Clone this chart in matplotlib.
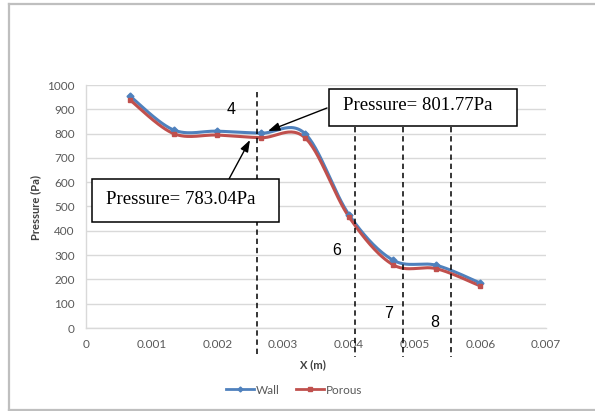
import numpy as np
import matplotlib
matplotlib.use("Agg")
import matplotlib.pyplot as plt
from matplotlib.transforms import blended_transform_factory
from matplotlib.patches import Rectangle
from matplotlib.lines import Line2D

# ---- data ----
x_pos = [0.000667, 0.001333, 0.002, 0.002667, 0.003333, 0.004, 0.004667, 0.005333, 0.006]
wall = [955, 815, 810, 801.77, 800, 467, 280, 258, 185]
porous = [939, 800, 794, 783.04, 783, 458, 261, 244, 173]
section_x = [0.0026, 0.0041, 0.00482, 0.00555]
section_labels = ["4", "6", "7", "8"]
x_ticks = [0, 0.001, 0.002, 0.003, 0.004, 0.005, 0.006, 0.007]
y_ticks = list(range(0, 1001, 100))
note_wall = "Pressure= 801.77Pa"
note_porous = "Pressure= 783.04Pa"

W, H = 595, 411
fig = plt.figure(figsize=(W / 100, H / 100), dpi=100)

def fx(px):
    return px / W

def fy(py):
    return 1 - py / H

ax = fig.add_axes([fx(86), fy(328), fx(546) - fx(86), fy(85) - fy(328)])
ax.set_xlim(0, 0.007)
ax.set_ylim(0, 1000)

blue = "#4F81BD"
red = "#C0504D"
grey_txt = "#595959"

def smooth(xs, ys, n=30):
    # Excel-like smoothed line (Bezier through the points), computed in screen-like units
    sx, sy = 460 / 0.007, 243 / 1000.0
    P = np.column_stack([np.array(xs) * sx, np.array(ys) * sy])
    out = []
    for i in range(len(P) - 1):
        p0 = P[i - 1] if i > 0 else P[i]
        p1 = P[i]
        p2 = P[i + 1]
        p3 = P[i + 2] if i + 2 < len(P) else P[i + 1]
        c1 = p1 + (p2 - p0) / 6.0
        c2 = p2 - (p3 - p1) / 6.0
        t = np.linspace(0, 1, n)[:, None]
        seg = (1 - t) ** 3 * p1 + 3 * (1 - t) ** 2 * t * c1 + 3 * (1 - t) * t ** 2 * c2 + t ** 3 * p2
        out.append(seg if i == 0 else seg[1:])
    out = np.vstack(out)
    return out[:, 0] / sx, out[:, 1] / sy

for ys, c, m, ms in [(wall, blue, "D", 3.5), (porous, red, "s", 3.5)]:
    sxs, sys_ = smooth(x_pos, ys)
    ax.plot(sxs, sys_, color=c, lw=2.2, zorder=3, solid_capstyle="round")
    ax.plot(x_pos, ys, linestyle="none", marker=m, ms=ms, color=c, zorder=4)

ax.set_xticks(x_ticks)
ax.set_xticklabels(["0", "0.001", "0.002", "0.003", "0.004", "0.005", "0.006", "0.007"])
ax.set_yticks(y_ticks)
ax.tick_params(axis="both", length=0, labelsize=8.5, labelcolor=grey_txt, pad=8)
for lab in ax.get_xticklabels() + ax.get_yticklabels():
    lab.set_family("Lato")
ax.grid(axis="y", color="#D9D9D9", lw=1)
ax.set_axisbelow(True)
for s in ["top", "right"]:
    ax.spines[s].set_visible(False)
for s in ["left", "bottom"]:
    ax.spines[s].set_color("#D9D9D9")
    ax.spines[s].set_linewidth(1)

fig.text(fx(36), fy(207), "Pressure (Pa)", rotation=90, ha="center", va="center",
         fontsize=8, fontweight="bold", family="Lato", color="#404040")
fig.text(fx(313), fy(365), "X (m)", ha="center", va="center",
         fontsize=8, fontweight="bold", family="Lato", color="#404040")

# legend
handles = [Line2D([], [], color=blue, lw=2, marker="D", ms=2.5),
           Line2D([], [], color=red, lw=2, marker="s", ms=2.5)]
fig.legend(handles, ["Wall", "Porous"], loc="center", bbox_to_anchor=(fx(294), fy(390)),
           ncol=2, frameon=False, handlelength=2.4, handletextpad=0.1, columnspacing=1.4,
           prop={"family": "Lato", "size": 8.5}, labelcolor=grey_txt)

# section lines
tr = blended_transform_factory(ax.transData, fig.transFigure)
tops = [92, 127, 127, 127]
for xv, tp in zip(section_x, tops):
    ln = Line2D([xv, xv], [fy(tp), fy(357)], transform=tr, color="black", lw=1.1,
                linestyle=(0, (3.5, 2.5)), zorder=5, clip_on=False)
    fig.add_artist(ln)

label_pos = [(231, 110), (337, 250), (389, 314), (435, 322)]
for lab, (px, py) in zip(section_labels, label_pos):
    fig.text(fx(px), fy(py), lab, ha="center", va="center", fontsize=11.5,
             family="Liberation Sans", color="black", zorder=6)

# annotation boxes
def note_box(x0, y0, x1, y1, text, tx):
    r = Rectangle((fx(x0), fy(y1)), fx(x1) - fx(x0), fy(y0) - fy(y1), transform=fig.transFigure,
                  facecolor="white", edgecolor="black", lw=1.1, zorder=8)
    fig.add_artist(r)
    fig.text(fx(tx), fy((y0 + y1) / 2 - 1.5), text, ha="center", va="center", fontsize=13.5,
             family="Liberation Serif", color="black", zorder=9)

note_box(329, 89, 517, 126, note_wall, 418)
note_box(92, 179, 279, 222, note_porous, 181)

arrow = dict(arrowstyle="-|>,head_length=0.7,head_width=0.25", color="black", lw=1.0,
             shrinkA=0, shrinkB=0)
ax.annotate("", xy=(fx(268), fy(131)), xytext=(fx(327), fy(108)), xycoords="figure fraction",
            textcoords="figure fraction", arrowprops=arrow, zorder=7, annotation_clip=False)
ax.annotate("", xy=(fx(250), fy(140)), xytext=(fx(229), fy(179)), xycoords="figure fraction",
            textcoords="figure fraction", arrowprops=arrow, zorder=7, annotation_clip=False)

# outer frame
frame_col = "#BFBFBF"
fig.add_artist(Line2D([fx(9), fx(595)], [fy(4.5), fy(4.5)], transform=fig.transFigure, color=frame_col, lw=1.6))
fig.add_artist(Line2D([fx(9), fx(9)], [fy(4.5), fy(411)], transform=fig.transFigure, color=frame_col, lw=1.6))
fig.add_artist(Line2D([fx(9), fx(595)], [fy(409.5), fy(409.5)], transform=fig.transFigure, color=frame_col, lw=1.6))

fig.savefig("out.png", dpi=100)
